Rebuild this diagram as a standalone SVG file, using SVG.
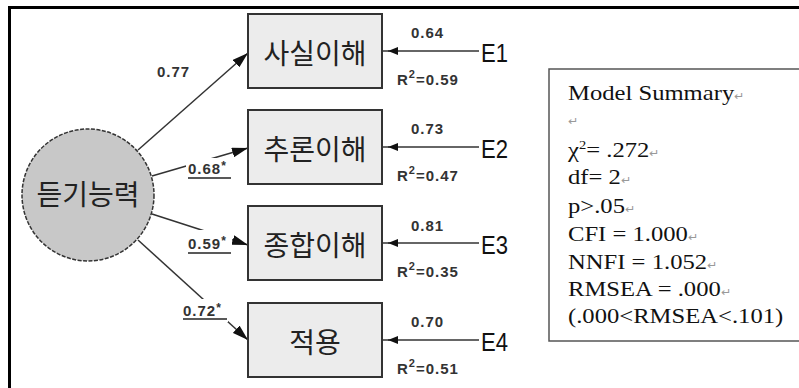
<svg xmlns="http://www.w3.org/2000/svg" width="799" height="388" viewBox="0 0 799 388">
<defs>
<marker id="ah" viewBox="0 0 16 10" refX="16" refY="5" markerWidth="16" markerHeight="10" markerUnits="userSpaceOnUse" orient="auto"><path d="M0,0 L16,5 L0,10 Z" fill="#111"/></marker>
<marker id="ahs" viewBox="0 0 10 8" refX="10" refY="4" markerWidth="10" markerHeight="8" markerUnits="userSpaceOnUse" orient="auto"><path d="M0,0 L10,4 L0,8 Z" fill="#111"/></marker>
</defs>
<style>
.ko{font-family:"Noto Sans CJK KR",sans-serif;font-size:28px;fill:#222;text-anchor:middle}
.box{fill:#ececec;stroke:#333;stroke-width:2}
.ln{stroke:#333;stroke-width:1.5;fill:none}
.num{font-family:"Liberation Sans",Arial,sans-serif;font-size:15px;font-weight:bold;letter-spacing:1px;fill:#333}
.e{font-family:"Liberation Sans",Arial,sans-serif;font-size:26px;fill:#111}
.tm{font-family:"Liberation Serif","Times New Roman",serif;font-size:22px;fill:#111}
.pm{font-size:11px;fill:#999}
.bg{fill:#fff}
.ul{stroke:#222;stroke-width:1.5}
</style>
<rect width="799" height="388" fill="#fff"/>
<path d="M9.5,388 V7.5 H799" fill="none" stroke="#000" stroke-width="3"/>

<g id="connectors">
<path class="ln" d="M138,150 L248,53" marker-end="url(#ah)"/>
<path class="ln" d="M152,176 L248,148" marker-end="url(#ah)"/>
<path class="ln" d="M152,214 L248,245" marker-end="url(#ah)"/>
<path class="ln" d="M138,240 L248,340" marker-end="url(#ah)"/>
<path class="ln" d="M479,51 H388" marker-end="url(#ahs)"/><path class="ln" d="M389,51 H383"/>
<path class="ln" d="M479,147 H388" marker-end="url(#ahs)"/><path class="ln" d="M389,147 H383"/>
<path class="ln" d="M479,243 H388" marker-end="url(#ahs)"/><path class="ln" d="M389,243 H383"/>
<path class="ln" d="M479,340 H388" marker-end="url(#ahs)"/><path class="ln" d="M389,340 H383"/>
<text class="num" x="157" y="77">0.77</text>
<rect class="bg" x="186" y="158" width="46" height="23"/>
<text class="num" x="188" y="174">0.68<tspan font-size="12" dy="-4">*</tspan></text>
<line class="ul" x1="188" y1="178" x2="231" y2="178"/>
<rect class="bg" x="186" y="230" width="46" height="26"/>
<text class="num" x="188" y="249">0.59<tspan font-size="12" dy="-4">*</tspan></text>
<line class="ul" x1="188" y1="253" x2="231" y2="253"/>
<rect class="bg" x="181" y="299" width="47" height="23"/>
<text class="num" x="183" y="316">0.72<tspan font-size="12" dy="-4">*</tspan></text>
<line class="ul" x1="183" y1="319" x2="227" y2="319"/>
<text class="num" x="411" y="38">0.64</text>
<text class="num" x="411" y="134">0.73</text>
<text class="num" x="411" y="231">0.81</text>
<text class="num" x="411" y="327">0.70</text>
</g>

<g id="latent">
<circle cx="88" cy="195" r="66" fill="#c8c8c8" stroke="#333" stroke-width="1.5" stroke-dasharray="4 1.5"/>
<text class="ko" x="88" y="205">듣기능력</text>
</g>

<g id="box1"><rect class="box" x="248" y="14" width="134" height="74"/><text class="ko" x="315" y="64">사실이해</text>
<text class="num" x="397" y="85">R<tspan font-size="11" dy="-7">2</tspan><tspan dy="7">=0.59</tspan></text></g>
<g id="box2"><rect class="box" x="248" y="110" width="134" height="74"/><text class="ko" x="315" y="160">추론이해</text>
<text class="num" x="397" y="181">R<tspan font-size="11" dy="-7">2</tspan><tspan dy="7">=0.47</tspan></text></g>
<g id="box3"><rect class="box" x="248" y="206" width="134" height="74"/><text class="ko" x="315" y="256">종합이해</text>
<text class="num" x="397" y="277">R<tspan font-size="11" dy="-7">2</tspan><tspan dy="7">=0.35</tspan></text></g>
<g id="box4"><rect class="box" x="248" y="303" width="134" height="74"/><text class="ko" x="315" y="353">적용</text>
<text class="num" x="397" y="374">R<tspan font-size="11" dy="-7">2</tspan><tspan dy="7">=0.51</tspan></text></g>

<g id="e1"><text class="e" x="481" y="62" textLength="27" lengthAdjust="spacingAndGlyphs">E1</text></g>
<g id="e2"><text class="e" x="481" y="158" textLength="27" lengthAdjust="spacingAndGlyphs">E2</text></g>
<g id="e3"><text class="e" x="481" y="254" textLength="27" lengthAdjust="spacingAndGlyphs">E3</text></g>
<g id="e4"><text class="e" x="481" y="351" textLength="27" lengthAdjust="spacingAndGlyphs">E4</text></g>

<g id="summary">
<rect x="549" y="69" width="262" height="272" fill="#fff" stroke="#555" stroke-width="1.5"/>
<g transform="translate(568 0) scale(1.12 1)">
<text class="tm" x="0" y="100">Model Summary<tspan class="pm">↵</tspan></text>
<text class="tm" x="0" y="125"><tspan class="pm">↵</tspan></text>
<text class="tm" x="0" y="157">χ<tspan font-size="13" dy="-8">2</tspan><tspan dy="8">= .272</tspan><tspan class="pm">↵</tspan></text>
<text class="tm" x="0" y="184">df= 2<tspan class="pm">↵</tspan></text>
<text class="tm" x="0" y="213">p&gt;.05<tspan class="pm">↵</tspan></text>
<text class="tm" x="0" y="241">CFI = 1.000<tspan class="pm">↵</tspan></text>
<text class="tm" x="0" y="269">NNFI = 1.052<tspan class="pm">↵</tspan></text>
<text class="tm" x="0" y="296">RMSEA = .000<tspan class="pm">↵</tspan></text>
<text class="tm" x="0" y="323">(.000&lt;RMSEA&lt;.101)</text>
</g>
</g>
</svg>
